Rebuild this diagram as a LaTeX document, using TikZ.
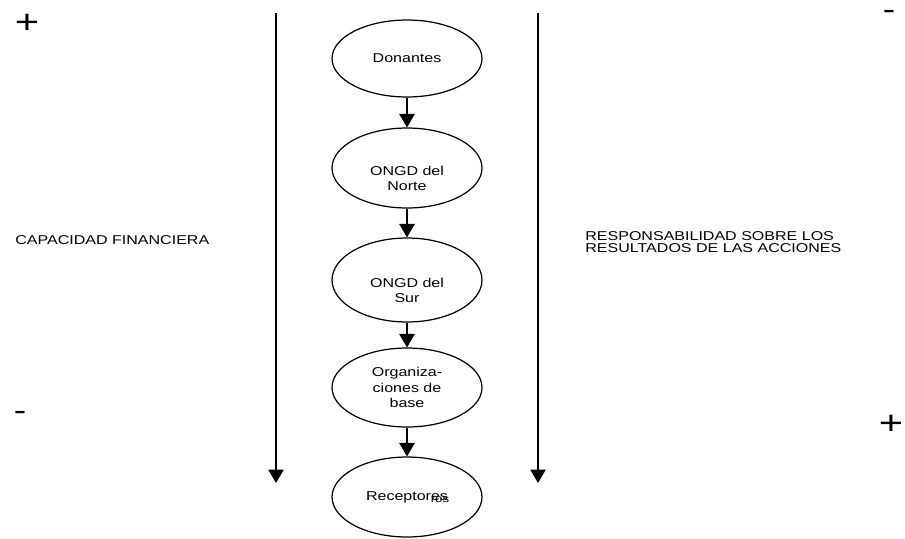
\documentclass[tikz,border=0pt]{standalone}
\usepackage{fontspec}
\setmainfont[FakeStretch=1.25]{Liberation Sans}
\usetikzlibrary{shapes.geometric}
\usetikzlibrary{arrows.meta}
\usetikzlibrary{positioning}

% text set a little lower inside its ellipse
\newcommand{\lowtext}[1]{\raisebox{-6.8pt}[\height][\depth]{\begin{tabular}{@{}c@{}}#1\end{tabular}}}

\begin{document}
\begin{tikzpicture}[x=0.02cm, y=-0.02cm,
  actor/.style={draw, ellipse, line width=0.7pt, minimum width=3cm, inner sep=0pt,
                align=center, font=\fontsize{7.3}{8.8}\selectfont},
  flow/.style={-{Triangle[width=0.31cm,length=0.27cm]}, line width=0.7pt},
  sign/.style={font=\fontsize{17}{17}\selectfont, inner sep=0pt, anchor=base},
  lbl/.style={font=\fontsize{7.3}{6.66}\selectfont, inner sep=0pt, anchor=west, align=left}]

\useasboundingbox (0,0) rectangle (905,538);

%---------------------------------------
% Chain of actors
%---------------------------------------
\node[actor, minimum height=1.54cm] (don)   at (407,58.5) {Donantes};
\node[actor, minimum height=1.60cm] (norte) at (407,168)  {\lowtext{ONGD del\\Norte}};
\node[actor, minimum height=1.68cm] (sur)   at (407,280)  {\lowtext{ONGD del\\Sur}};
\node[actor, minimum height=1.58cm] (base)  at (407,387.5) {Organiza-\\ciones de\\base};
\node[actor, minimum height=1.60cm] (recep) at (407,497)  {Receptores};
\node[font=\fontsize{6}{6}\selectfont, inner sep=0pt] (ros) at (440,500) {ros};

\draw[flow] (don) -- (norte);
\draw[flow] (norte) -- (sur);
\draw[flow] (sur) -- (base);
\draw[flow] (base) -- (recep);

%---------------------------------------
% Side scales
%---------------------------------------
\coordinate (ltop) at (276,13);
\coordinate (lbot) at (276,483);
\coordinate (rtop) at (538,13);
\coordinate (rbot) at (538,483);
\draw[flow] (ltop) -- (lbot);
\draw[flow] (rtop) -- (rbot);

\node[lbl] (capac) at (15,240.5) {CAPACIDAD FINANCIERA};
\node[lbl] (respon) at (585,242) {RESPONSABILIDAD SOBRE LOS\\RESULTADOS DE LAS ACCIONES};

% Signs
\node[sign, font=\fontsize{19}{19}\selectfont] (lplus) at (27,33.4) {+};
\node[sign] (lminus) at (20,420)   {-};
\node[sign] (rminus) at (889,19.5) {-};
\node[sign, font=\fontsize{19}{19}\selectfont] (rplus) at (891,434) {+};

\end{tikzpicture}
\end{document}
